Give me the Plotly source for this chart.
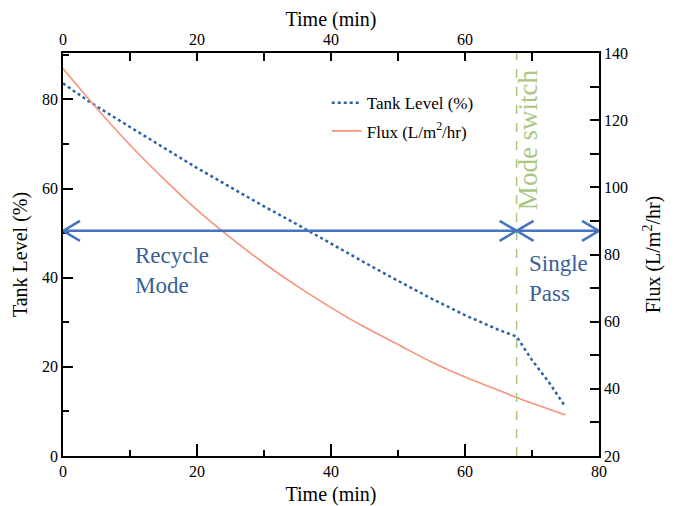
import plotly.graph_objects as go

# ---- data ----
tank_time = [0, 4, 10, 15, 20, 25, 30, 35, 40, 45, 50, 55, 60, 65, 67.7, 70, 72.5, 75]
tank_level = [83.6, 79.4, 73.8, 69.2, 64.6, 60.3, 56.0, 51.9, 47.6, 43.4, 39.3, 35.3, 31.6, 28.3, 26.8, 21.5, 16.6, 11.0]

flux_time = [0, 5, 10, 15, 20, 25, 30, 35, 40, 45, 50, 55, 60, 65, 67.7, 70, 75]
flux = [135.4, 123.6, 112.6, 102.6, 93.3, 85.0, 77.4, 70.5, 64.2, 58.4, 53.2, 48.0, 43.5, 39.6, 37.4, 35.7, 32.2]

switch_time = 67.7
arrow_level = 50.5
x_ticks = [0, 20, 40, 60, 80]

FONT = "Liberation Serif"
BLUE_ARROW = "#4674bf"
TEXT_BLUE = "#3a5f98"
GREEN = "#a9c77f"

fig = go.Figure()
fig.add_trace(go.Scatter(
    x=tank_time, y=tank_level, mode="lines", name="Tank Level (%)",
    line=dict(color="#2d62a8", width=2.5, dash="dot"), legendgroup="a",
))
fig.add_trace(go.Scatter(
    x=flux_time, y=flux, mode="lines", name="Flux (L/m<sup>2</sup>/hr)",
    line=dict(color="#f7937c", width=1.6, shape="spline", smoothing=0.8), yaxis="y2", legendgroup="b",
))
# empty trace to anchor the top axis
fig.add_trace(go.Scatter(x=[], y=[], xaxis="x2", showlegend=False, hoverinfo="skip"))

axis_common = dict(showline=True, linecolor="black", linewidth=1.5, ticks="inside",
                   tickcolor="black", tickwidth=1.5, showgrid=False, zeroline=False,
                   tickfont=dict(family=FONT, size=16, color="black"))

fig.update_layout(
    width=667, height=498,
    margin=dict(l=55, r=76, t=45, b=50, autoexpand=False),
    paper_bgcolor="white", plot_bgcolor="white",
    font=dict(family=FONT, color="black"),
    xaxis=dict(range=[0, 80], tickvals=x_ticks, ticklen=12,
               minor=dict(dtick=10, ticklen=6, ticks="inside", tickcolor="black", tickwidth=1.5),
               title=dict(text="Time (min)", font=dict(family=FONT, size=20), standoff=12),
               **axis_common),
    xaxis2=dict(range=[0, 80], overlaying="x", side="top", tickvals=[0, 10, 20, 30, 40, 50, 60, 70, 80],
                ticktext=["0", " ", "20", " ", "40", " ", "60", " ", " "], ticklen=8,
                title=dict(text="Time (min)", font=dict(family=FONT, size=20), standoff=1),
                **axis_common),
    yaxis=dict(range=[0, 90.4], dtick=20, ticklen=10,
               minor=dict(dtick=10, ticklen=6, ticks="inside", tickcolor="black", tickwidth=1.5),
               title=dict(text="Tank Level (%)", font=dict(family=FONT, size=20), standoff=9),
               **axis_common),
    yaxis2=dict(range=[20, 140], dtick=20, overlaying="y", side="right", ticklen=9,
                minor=dict(dtick=10, ticklen=9, ticks="inside", tickcolor="black", tickwidth=1.5),
                title=dict(text="Flux (L/m<sup>2</sup>/hr)", font=dict(family=FONT, size=20), standoff=19),
                **axis_common),
    legend=dict(x=0.492, y=0.92, xanchor="left", yanchor="top", bgcolor="rgba(0,0,0,0)",
                font=dict(family=FONT, size=17, color="black"), tracegroupgap=3,
                traceorder="grouped"),
)

shapes = [
    dict(type="line", xref="x", yref="paper", x0=switch_time, x1=switch_time, y0=0, y1=1,
         line=dict(color=GREEN, width=1.5, dash="dash")),
    dict(type="line", xref="x", yref="y", x0=0, x1=switch_time, y0=arrow_level, y1=arrow_level,
         line=dict(color=BLUE_ARROW, width=2.5)),
    dict(type="line", xref="x", yref="y", x0=switch_time, x1=80, y0=arrow_level, y1=arrow_level,
         line=dict(color=BLUE_ARROW, width=2.5)),
]
for xa, direction in [(0, -1), (switch_time, 1), (switch_time, -1), (80, 1)]:
    d = -direction * 17
    shapes.append(dict(type="path", xref="x", yref="y", xsizemode="pixel", ysizemode="pixel",
                       xanchor=xa, yanchor=arrow_level,
                       path=f"M {d},10 L 0,0 L {d},-10",
                       line=dict(color=BLUE_ARROW, width=2.5)))
fig.update_layout(shapes=shapes)

fig.add_annotation(x=10.5, y=41.5, xref="x", yref="y", xanchor="left", yanchor="middle",
                   text="Recycle<br>Mode", showarrow=False, align="left",
                   font=dict(family=FONT, size=23, color=TEXT_BLUE))
fig.add_annotation(x=69.3, y=39.8, xref="x", yref="y", xanchor="left", yanchor="middle",
                   text="Single<br>Pass", showarrow=False, align="left",
                   font=dict(family=FONT, size=23, color=TEXT_BLUE))
fig.add_annotation(x=69.5, y=71, xref="x", yref="y", xanchor="center", yanchor="middle",
                   text="Mode switch", showarrow=False, textangle=-90,
                   font=dict(family=FONT, size=27, color=GREEN))

fig.write_html("out.html")
